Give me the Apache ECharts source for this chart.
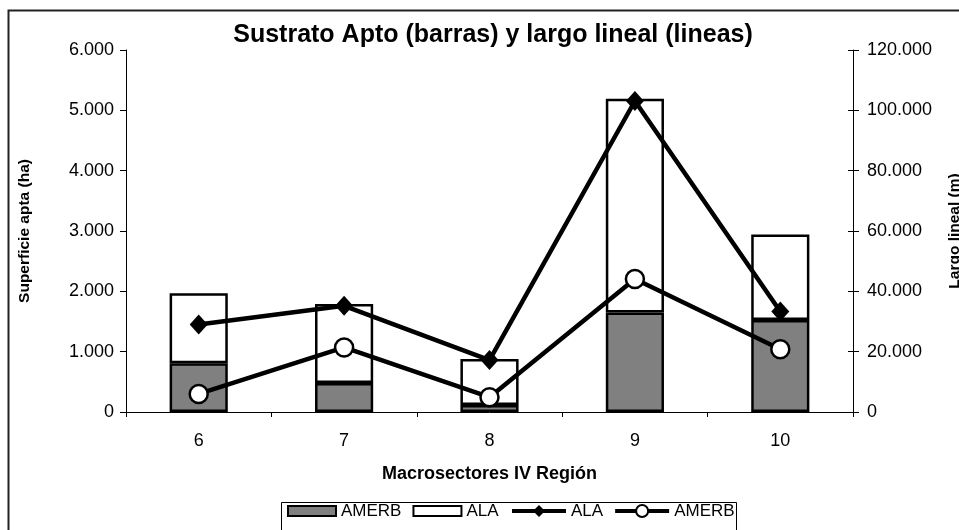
<!DOCTYPE html>
<html>
<head>
<meta charset="utf-8">
<script src="https://cdn.jsdelivr.net/npm/echarts@6/dist/echarts.min.js"></script>
<style>
html,body{margin:0;padding:0;background:#fff;}
#chart{width:959px;height:530px;}
</style>
</head>
<body>
<div id="chart"></div>
<script>
// ---- data ----
var categories = ['6', '7', '8', '9', '10'];
var amerbArea = [810, 480, 115, 1650, 1525];      // ha (bars, bottom)
var alaArea = [1160, 1310, 765, 3540, 1415];      // ha (bars, top)
var alaLength = [29000, 35200, 17200, 103100, 33300];   // m (line, diamonds)
var amerbLength = [6000, 21400, 4900, 44100, 20800];    // m (line, circles)
var leftTicks = [0, 1000, 2000, 3000, 4000, 5000, 6000];
var rightTicks = [0, 20000, 40000, 60000, 80000, 100000, 120000];

var FONT = 'Liberation Sans, Arial, sans-serif';
function fmt(v) {
  return String(v).replace(/\B(?=(\d{3})+(?!\d))/g, '.');
}

var chart = echarts.init(document.getElementById('chart'), null, {renderer: 'canvas'});
var leftMin = leftTicks[0], leftMax = leftTicks[leftTicks.length - 1], leftInt = leftTicks[1] - leftTicks[0];
var rightMin = rightTicks[0], rightMax = rightTicks[rightTicks.length - 1], rightInt = rightTicks[1] - rightTicks[0];

var legendText = {fontFamily: FONT, fontSize: 17, color: '#000', lineHeight: 20, height: 20};

var option = {
  animation: false,
  backgroundColor: '#fff',
  textStyle: {fontFamily: FONT, color: '#000'},
  graphic: [{
    type: 'rect', silent: true, z: 100,
    shape: {x: 8.5, y: 10.5, width: 1200, height: 800},
    style: {fill: 'none', stroke: '#222', lineWidth: 2}
  }, {
    type: 'rect', silent: true, z: 100,
    shape: {x: 281.5, y: 502.5, width: 455, height: 40},
    style: {fill: 'none', stroke: '#000', lineWidth: 1}
  }],
  title: {
    text: 'Sustrato Apto (barras) y largo lineal (lineas)',
    left: 488, top: 18, textAlign: 'center',
    textStyle: {fontFamily: FONT, fontSize: 25, fontWeight: 'bold', color: '#000'}
  },
  legend: [{
    left: 287, top: 501, padding: 0,
    itemWidth: 48, itemHeight: 10, itemGap: 11,
    textStyle: legendText,
    data: [
      {name: 'AMERB', icon: 'rect', itemStyle: {color: '#808080', borderColor: '#000', borderWidth: 2}},
      {name: 'ALA', icon: 'rect', itemStyle: {color: '#fff', borderColor: '#000', borderWidth: 2}}
    ]
  }, {
    left: 510, top: 501, padding: 0,
    itemWidth: 54, itemHeight: 15, itemGap: 10,
    textStyle: legendText,
    data: [
      {name: 'ALA\u200b', lineStyle: {width: 4}},
      {name: 'AMERB\u200b', lineStyle: {width: 4}}
    ]
  }],
  grid: {left: 126, right: 106, top: 50, bottom: 118, containLabel: false, outerBoundsMode: 'none'},
  xAxis: {
    type: 'category',
    data: categories,
    name: 'Macrosectores IV Región',
    nameLocation: 'middle',
    nameGap: 53,
    nameTextStyle: {fontFamily: FONT, fontSize: 18, fontWeight: 'bold', color: '#000'},
    axisLine: {lineStyle: {color: '#000', width: 1}},
    axisTick: {show: true, length: 5, lineStyle: {color: '#000'}},
    axisLabel: {fontFamily: FONT, fontSize: 18, color: '#000', margin: 20},
    splitLine: {show: false}
  },
  yAxis: [{
    type: 'value', position: 'left',
    min: leftMin, max: leftMax, interval: leftInt,
    name: 'Superficie apta (ha)',
    nameLocation: 'middle', nameGap: 93,
    nameTextStyle: {fontFamily: FONT, fontSize: 15.5, fontWeight: 'bold', color: '#000'},
    axisLine: {show: true, lineStyle: {color: '#000', width: 1}},
    axisTick: {show: true, length: 6, lineStyle: {color: '#000'}},
    axisLabel: {fontFamily: FONT, fontSize: 18, color: '#000', margin: 12, formatter: fmt},
    splitLine: {show: false}
  }, {
    type: 'value', position: 'right',
    min: rightMin, max: rightMax, interval: rightInt,
    name: 'Largo lineal (m)',
    nameLocation: 'middle', nameGap: 94,
    nameTextStyle: {fontFamily: FONT, fontSize: 15.5, fontWeight: 'bold', color: '#000'},
    axisLine: {show: true, lineStyle: {color: '#000', width: 1}},
    axisTick: {show: true, length: 6, lineStyle: {color: '#000'}},
    axisLabel: {fontFamily: FONT, fontSize: 18, color: '#000', margin: 14, formatter: fmt},
    splitLine: {show: false}
  }, {
    type: 'value', position: 'right',
    min: rightMin, max: rightMax, interval: rightInt,
    axisLine: {show: false},
    axisTick: {show: true, inside: true, length: 5, lineStyle: {color: '#000'}},
    axisLabel: {show: false},
    splitLine: {show: false}
  }],
  series: [{
    name: 'AMERB', type: 'bar', stack: 'area', yAxisIndex: 0,
    data: amerbArea, barWidth: '40%',
    itemStyle: {color: '#808080', borderColor: '#000', borderWidth: 2.5}
  }, {
    name: 'ALA', type: 'bar', stack: 'area', yAxisIndex: 0,
    data: alaArea, barWidth: '40%',
    itemStyle: {color: '#fff', borderColor: '#000', borderWidth: 2.5}
  }, {
    name: 'ALA\u200b', type: 'line', yAxisIndex: 1,
    data: alaLength,
    symbol: 'diamond', symbolSize: [18, 20],
    lineStyle: {color: '#000', width: 4.5},
    itemStyle: {color: '#000', borderColor: '#000', borderWidth: 0},
    z: 5
  }, {
    name: 'AMERB\u200b', type: 'line', yAxisIndex: 1,
    data: amerbLength,
    symbol: 'circle', symbolSize: 18,
    lineStyle: {color: '#000', width: 4.5},
    itemStyle: {color: '#fff', borderColor: '#000', borderWidth: 2.5},
    z: 5
  }]
};
chart.setOption(option);
</script>
</body>
</html>
